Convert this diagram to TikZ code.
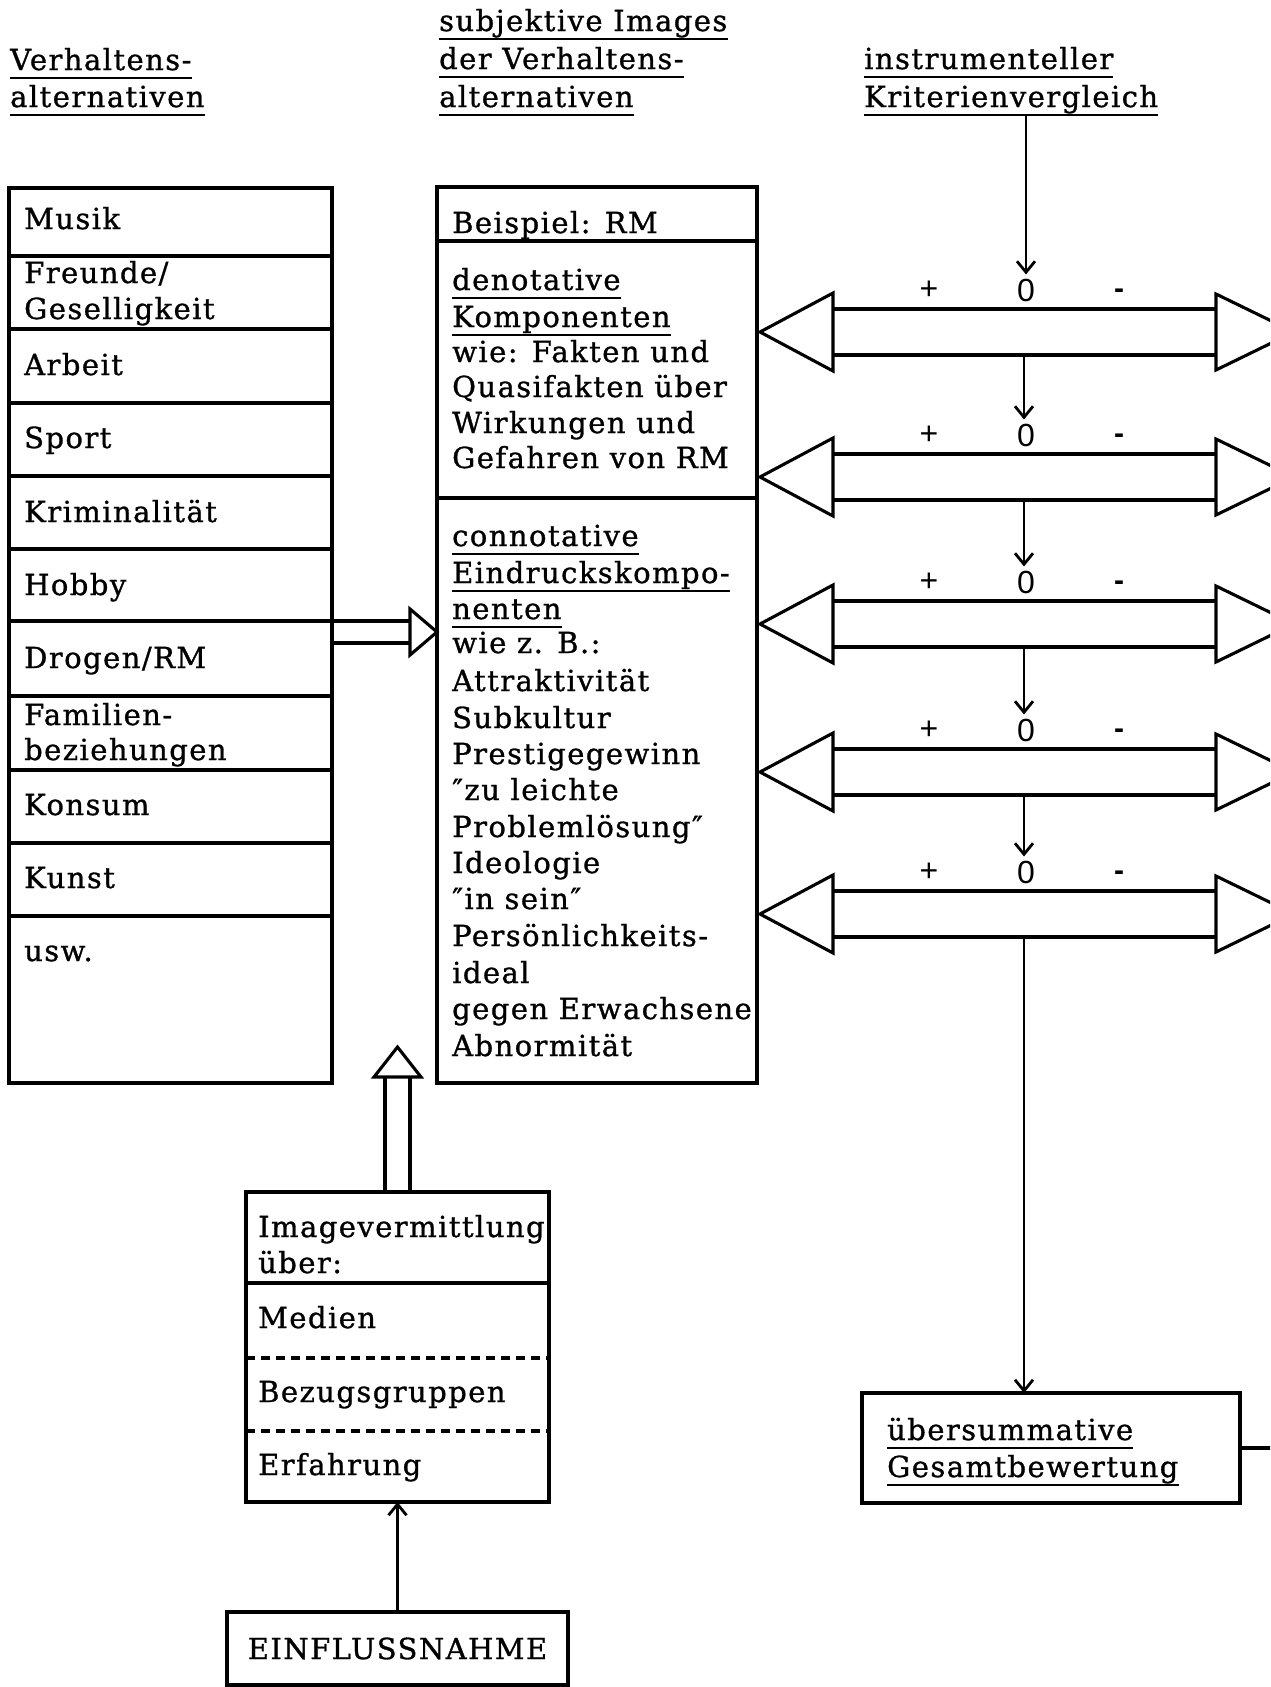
\documentclass[tikz,border=0pt]{standalone}
\usepackage{fontspec}
\setmainfont{DejaVu Serif}[LetterSpace=5.0, FakeBold=1]
\newfontfamily\lblfont{Liberation Sans}
\usetikzlibrary{arrows.meta,calc}
\newcommand\ulin[1]{\draw[ul] ($(#1.base west)+(0,8)$) -- ($(#1.base east)+(0,8)$);}
\begin{document}
\begin{tikzpicture}[x=1pt,y=-1pt,
  ln/.style={line width=3.1pt, line join=miter},
  box/.style={draw, line width=3.3pt, inner sep=0pt, outer sep=0pt},
  txt/.style={anchor=base west, inner sep=0pt, font=\fontsize{29}{36}\selectfont},
  lbl/.style={inner sep=4pt, font=\lblfont\fontsize{32}{34}\selectfont},
  tip/.style={-{Straight Barb[length=11pt,width=18pt]}, line width=2.8pt},
  ul/.style={line width=2.8pt},
]
\path[use as bounding box] (0,0) rectangle (1270,1687);
\clip (0,0) rectangle (1270,1687);

% column headings
\node[txt] (h1a) at (10,70) {Verhaltens-};
\node[txt] (h1b) at (10,107) {alternativen};
\node[txt] (h2a) at (439,31) {subjektive Images};
\node[txt] (h2b) at (439,69) {der Verhaltens-};
\node[txt] (h2c) at (439,107) {alternativen};
\node[txt] (h3a) at (864,69) {instrumenteller};
\node[txt] (h3b) at (864,107) {Kriterienvergleich};
\foreach \n in {h1a,h1b,h2a,h2b,h2c,h3a,h3b} {\ulin{\n}}

% behaviour alternatives
\node[box, anchor=north west, minimum width=323pt, minimum height=895pt] (alt) at (9,188) {};
\foreach \y in {256,329,403,476,549,621,696,770,843,916}
  \draw[ln] (9,\y) -- (332,\y);
\node[txt] (a1) at (24,229) {Musik};
\node[txt] (a2) at (24,283) {Freunde/};
\node[txt] (a3) at (24,319) {Geselligkeit};
\node[txt] (a4) at (24,375) {Arbeit};
\node[txt] (a5) at (24,448) {Sport};
\node[txt] (a6) at (24,522) {Kriminalität};
\node[txt] (a7) at (24,595) {Hobby};
\node[txt] (a8) at (24,668) {Drogen/RM};
\node[txt] (a9) at (24,725) {Familien-};
\node[txt] (a10) at (24,760) {beziehungen};
\node[txt] (a11) at (24,815) {Konsum};
\node[txt] (a12) at (24,888) {Kunst};
\node[txt] (a13) at (24,961) {usw.};

% subjective images
\node[box, anchor=north west, minimum width=320pt, minimum height=896pt] (img) at (437,187) {};
\draw[ln] (437,241) -- (757,241);
\draw[ln] (437,498) -- (757,498);
\node[txt] (i0) at (452,233) {Beispiel: RM};
\node[txt] (i1) at (452,290) {denotative};
\node[txt] (i2) at (452,327) {Komponenten};
\node[txt] (i3) at (452,362) {wie: Fakten und};
\node[txt] (i4) at (452,397) {Quasifakten über};
\node[txt] (i5) at (452,433) {Wirkungen und};
\node[txt] (i6) at (452,468) {Gefahren von RM};
\node[txt] (c1) at (452,546) {connotative};
\node[txt] (c2) at (452,583) {Eindruckskompo-};
\node[txt] (c3) at (452,619) {nenten};
\node[txt] (c4) at (452,653) {wie z. B.:};
\node[txt] (c5) at (452,691) {Attraktivität};
\node[txt] (c6) at (452,728) {Subkultur};
\node[txt] (c7) at (452,764) {Prestigegewinn};
\node[txt] (c8) at (452,800) {″zu leichte};
\node[txt] (c9) at (452,837) {Problemlösung″};
\node[txt] (c10) at (452,873) {Ideologie};
\node[txt] (c11) at (452,909) {″in sein″};
\node[txt] (c12) at (452,946) {Persönlichkeits-};
\node[txt] (c13) at (452,983) {ideal};
\node[txt] (c14) at (452,1019) {gegen Erwachsene};
\node[txt] (c15) at (452,1056) {Abnormität};
\foreach \n in {i1,i2,c1,c2,c3} {\ulin{\n}}

% hollow arrow: alternatives -> images
\coordinate (s1) at (0,621);
\coordinate (s2) at (0,643);
\coordinate (s3) at (0,632);
\draw[ln] (alt.east |- s1) -- (410,621);
\draw[ln] (alt.east |- s2) -- (410,643);
\draw[ln] (410,609) -- (410,655) -- (img.west |- s3) -- cycle;

% image transmission
\node[box, anchor=north west, minimum width=303pt, minimum height=310pt] (iv) at (246,1192) {};
\draw[ln] (246,1283) -- (549,1283);
\draw[ln, dash pattern=on 9pt off 6pt] (246,1358) -- (549,1358);
\draw[ln, dash pattern=on 9pt off 6pt] (246,1431) -- (549,1431);
\node[txt] (v1) at (258,1237) {Imagevermittlung};
\node[txt] (v2) at (258,1273) {über:};
\node[txt] (v3) at (258,1328) {Medien};
\node[txt] (v4) at (258,1402) {Bezugsgruppen};
\node[txt] (v5) at (258,1475) {Erfahrung};

% hollow arrow: image transmission -> images
\coordinate (uptip) at (397.5,1047);
\draw[ln] ($(iv.north)+(-12.5,0)$) -- ++(0,-115);
\draw[ln] ($(iv.north)+(12.5,0)$) -- ++(0,-115);
\draw[ln] (374,1077) -- (421,1077) -- (uptip) -- cycle;

% influence
\node[box, minimum width=341pt, minimum height=73pt,
  font=\fontsize{29}{36}\selectfont] (einfl) at (397.5,1648.5) {EINFLUSSNAHME};
\draw[tip] (einfl.north) -- (iv.south);

% criteria comparison scales
\foreach \c [count=\k] in {332,477,624,772,914} {
  \draw[ln] (833,\c-23) -- (1216,\c-23);
  \draw[ln] (833,\c+23) -- (1216,\c+23);
  \draw[ln] (833,\c-39) -- (833,\c+39) -- (760,\c) -- cycle;
  \draw[ln] (1216,\c-38) -- (1216,\c+38) -- (1294,\c) -- cycle;
  \node[lbl] (p\k) at (929,\c-42) {+};
  \node[lbl] (z\k) at (1026,\c-42) {0};
  \node[lbl, font=\lblfont\bfseries\fontsize{30}{32}\selectfont] (m\k) at (1119,\c-38) {-};
  \coordinate (b\k) at (1024,\c+23);
}
\coordinate (hk) at (0,115);
\draw[tip] (z1.north |- hk) -- (z1.north);
\foreach \k/\j in {1/2,2/3,3/4,4/5}
  \draw[tip] (b\k) -- (b\k |- z\j.north);

% overall evaluation
\node[box, anchor=north west, minimum width=378pt, minimum height=110pt] (ges) at (862,1393) {};
\node[txt] (g1) at (887,1440) {übersummative};
\node[txt] (g2) at (887,1477) {Gesamtbewertung};
\foreach \n in {g1,g2} {\ulin{\n}}
\draw[tip] (b5) -- (b5 |- ges.north);
\coordinate (gout) at (1290,1447);
\draw[ln] (ges.east) -- (gout |- ges.east);
\end{tikzpicture}
\end{document}
